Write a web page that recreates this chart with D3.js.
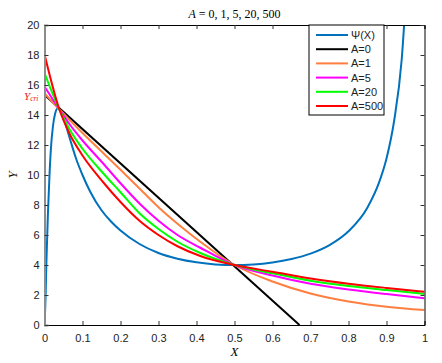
<!DOCTYPE html>
<html>
<head>
<meta charset="utf-8">
<script src="https://cdn.jsdelivr.net/npm/d3@7"></script>
<style>
    body { margin: 0; background: #fff; }
    svg { display: block; }
    .tick-label { font-family: "Liberation Sans", Arial, sans-serif; font-size: 11px; fill: #222; }
    .math { font-family: "Liberation Serif", "DejaVu Serif", serif; }
</style>
</head>
<body>
<svg id="chart" width="442" height="363"></svg>
<script>
// values
const title = "A = 0, 1, 5, 20, 500"
const xTicks = [0, 0.1, 0.2, 0.3, 0.4, 0.5, 0.6, 0.7, 0.8, 0.9, 1]
const yTicks = [0, 2, 4, 6, 8, 10, 12, 14, 16, 18, 20]
const yCri = 15.3

const psiX = [0, 0.003, 0.005, 0.009, 0.013, 0.017, 0.022, 0.028, 0.035, 0.042, 0.05, 0.06, 0.07, 0.083, 0.1, 0.12, 0.15, 0.175, 0.2, 0.25, 0.3, 0.35, 0.4, 0.45, 0.5, 0.55, 0.6, 0.65, 0.7, 0.75, 0.8, 0.85, 0.88, 0.9, 0.92, 0.94, 0.96]
const psiY = [0, 2, 4.2, 7.4, 9.9, 11.8, 13.2, 14.1, 14.45, 14.3, 13.8, 13.0, 12.15, 11.1, 10.0, 8.9, 7.65, 6.9, 6.3, 5.4, 4.8, 4.42, 4.18, 4.04, 4.0, 4.04, 4.17, 4.4, 4.76, 5.33, 6.25, 7.84, 9.47, 11.1, 13.6, 17.7, 26]

const a0X = [0, 0.671]
const a0Y = [15.35, 0]

const aX = [0, 0.039, 0.067, 0.1, 0.155, 0.2, 0.25, 0.3, 0.35, 0.41, 0.5, 0.6, 0.7, 0.8, 0.9, 1.0]
const a1Y = [15.45, 14.38, 13.65, 12.8, 11.45, 10.35, 9.1, 7.85, 6.75, 5.55, 4.0, 2.9, 2.1, 1.57, 1.22, 1.0]
const a5Y = [15.9, 14.38, 13.35, 12.3, 10.75, 9.45, 8.1, 6.95, 6.0, 5.15, 4.0, 3.3, 2.75, 2.37, 2.06, 1.78]
const a20Y = [16.8, 14.38, 13.0, 11.75, 10.1, 8.85, 7.45, 6.4, 5.55, 4.8, 4.0, 3.45, 2.95, 2.6, 2.33, 2.07]
const a500Y = [18.05, 14.38, 12.7, 11.3, 9.5, 8.2, 6.95, 6.0, 5.25, 4.6, 4.0, 3.55, 3.1, 2.75, 2.47, 2.22]

const seriesNames = ["\u03A8(X)", "A=0", "A=1", "A=5", "A=20", "A=500"]
const seriesColors = ["#0072bd", "#000000", "#ff7f40", "#ff00ff", "#00ff00", "#ff0000"]

const zip = (xs, ys) => xs.map((x, i) => ({ x: x, y: ys[i] }))
const seriesData = [
    zip(psiX, psiY),
    zip(a0X, a0Y),
    zip(aX, a1Y),
    zip(aX, a5Y),
    zip(aX, a20Y),
    zip(aX, a500Y)
]

const margin = { left: 44.5, right: 17.5, top: 25, bottom: 38 }
const width = 442, height = 363

const svg = d3.select("#chart")

const scaleX = d3.scaleLinear().domain([0, 1]).range([margin.left, width - margin.right])
const scaleY = d3.scaleLinear().domain([0, 20]).range([height - margin.bottom, margin.top])

svg.append("defs")
    .append("clipPath")
    .attr("id", "plot-clip")
    .append("rect")
    .attr("x", scaleX(0))
    .attr("y", scaleY(20))
    .attr("width", scaleX(1) - scaleX(0))
    .attr("height", scaleY(0) - scaleY(20))

const drawLine = (data, color) => {
    const line = d3.line()
        .curve(d3.curveMonotoneX)
        .x(d => scaleX(d.x))
        .y(d => scaleY(d.y))

    svg.append("path")
        .datum(data)
        .attr("clip-path", "url(#plot-clip)")
        .attr("fill", "none")
        .attr("stroke", color)
        .attr("stroke-width", 2)
        .attr("d", line)
}

seriesData.forEach((d, i) => drawLine(d, seriesColors[i]))

// axes, ticks inward on all four sides
const tickLen = 4

const xAxisBottom = d3.axisBottom(scaleX).tickValues(xTicks).tickSize(-tickLen).tickPadding(9)
    .tickFormat(d3.format("~g"))
const xAxisTop = d3.axisTop(scaleX).tickValues(xTicks).tickSize(-tickLen).tickFormat("")
const yAxisLeft = d3.axisLeft(scaleY).tickValues(yTicks).tickSize(-tickLen).tickPadding(5)
const yAxisRight = d3.axisRight(scaleY).tickValues(yTicks).tickSize(-tickLen).tickFormat("")

const styleAxis = (g, color) => {
    g.selectAll("path").attr("stroke", color)
    g.selectAll("line").attr("stroke", "#333")
    g.selectAll("text").attr("class", "tick-label").attr("font-size", null).attr("font-family", null)
}

svg.append("g").attr("transform", `translate(0,${scaleY(20)})`).call(xAxisTop).call(g => styleAxis(g, "#000"))
svg.append("g").attr("transform", `translate(${scaleX(1)},0)`).call(yAxisRight).call(g => styleAxis(g, "#000"))
svg.append("g").attr("transform", `translate(0,${scaleY(0)})`).call(xAxisBottom).call(g => styleAxis(g, "#000"))
svg.append("g").attr("transform", `translate(${scaleX(0)},0)`).call(yAxisLeft)
    .call(g => {
        styleAxis(g, "#8c8c8c")
        g.select("path.domain").attr("stroke-width", 2)
    })

// title and axis labels
const titleText = svg.append("text")
    .attr("class", "math")
    .attr("x", (scaleX(0) + scaleX(1)) / 2)
    .attr("y", 18)
    .attr("text-anchor", "middle")
    .attr("font-size", 12)
titleText.append("tspan").attr("font-style", "italic").text(title.slice(0, 1))
titleText.append("tspan").text(title.slice(1))

svg.append("text")
    .attr("class", "math")
    .attr("x", (scaleX(0) + scaleX(1)) / 2)
    .attr("y", 356)
    .attr("text-anchor", "middle")
    .attr("font-size", 13)
    .attr("font-style", "italic")
    .text("X")

svg.append("text")
    .attr("class", "math")
    .attr("transform", `translate(17,${scaleY(10)}) rotate(-90)`)
    .attr("text-anchor", "middle")
    .attr("font-size", 13)
    .attr("font-style", "italic")
    .text("Y")

const cri = svg.append("text")
    .attr("class", "math")
    .attr("x", 24)
    .attr("y", scaleY(yCri) + 4)
    .attr("fill", "#e8201a")
    .attr("font-style", "italic")
    .attr("font-size", 11)
cri.append("tspan").text("Y")
cri.append("tspan").attr("font-size", 7.5).attr("dy", 1.5).text("cri")

// legend
const legendX = 309, legendY = 25, legendW = 75, legendH = 90, rowH = 14.2

const legend = svg.append("g")
legend.append("rect")
    .attr("x", legendX)
    .attr("y", legendY)
    .attr("width", legendW)
    .attr("height", legendH)
    .attr("fill", "#fff")
    .attr("stroke", "#000")
    .attr("stroke-width", 1)

seriesNames.forEach((name, i) => {
    const y = legendY + 10 + i * rowH
    legend.append("line")
        .attr("x1", legendX + 7)
        .attr("x2", legendX + 39)
        .attr("y1", y)
        .attr("y2", y)
        .attr("stroke", seriesColors[i])
        .attr("stroke-width", 2)
    legend.append("text")
        .attr("class", "tick-label")
        .attr("x", legendX + 42)
        .attr("y", y + 4)
        .attr("fill", "#000")
        .text(name)
})
</script>
</body>
</html>
